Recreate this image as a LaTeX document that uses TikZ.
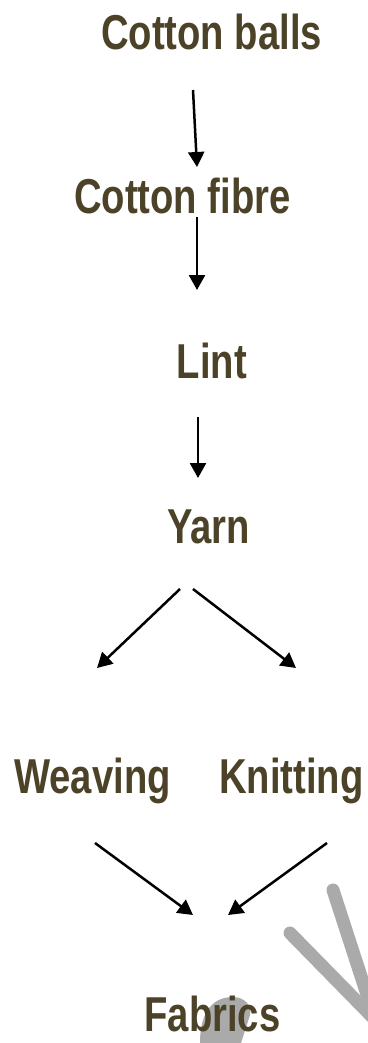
\documentclass[tikz,border=0pt]{standalone}
\usepackage{fontspec}
\newfontfamily\flowfont{Liberation Sans}[FakeStretch=0.78]
\usetikzlibrary{arrows.meta}
\definecolor{stagebrown}{RGB}{75,66,40}
\definecolor{wmgray}{RGB}{170,170,170}

\begin{document}
\begin{tikzpicture}[x=1pt,y=-1pt,
		stage/.style={ % the process steps
			text=stagebrown, inner sep=0pt, anchor=base,
			font=\flowfont\bfseries\fontsize{49}{58}\selectfont
		},
		flow/.style={line width=2.5pt, -{Triangle[length=15pt,width=16pt]}},
		wmstroke/.style={wmgray, line width=13pt, line cap=round}
		]
	\useasboundingbox (0,0) rectangle (367,1043);

	%% watermark pieces
	\draw[wmstroke] (333,890) -- (372,1010);
	\draw[wmstroke] (290,933) -- (390,1035);
	\fill[wmgray] (200,1043) .. controls (200,1010) and (214,997) .. (233,997)
		.. controls (245,997) and (252,1006) .. (250,1015) -- (241,1043) -- cycle;

	%% steps
	\node[stage] (balls) at (211.5,50) {Cotton balls};
	\node[stage] (fibre) at (182.5,213) {Cotton fibre};
	\node[stage] (lint) at (212,378) {Lint};
	\node[stage] (yarn) at (208.5,543) {Yarn};
	\node[stage] (weave) at (92.5,793) {Weaving};
	\node[stage] (knit) at (291.5,793) {Knitting};
	\node[stage] (fabric) at (212.5,1031) {Fabrics};

	% arrow ends
	\coordinate (b1) at (193,90);   \coordinate (f1) at (197,167);
	\coordinate (b2) at (197,217);  \coordinate (f2) at (197,290);
	\coordinate (b3) at (198,417);  \coordinate (f3) at (198,478);
	\coordinate (y1) at (180,589);  \coordinate (w1) at (97,668);
	\coordinate (y2) at (193,589);  \coordinate (k1) at (296,668);
	\coordinate (w2) at (95,843);   \coordinate (c1) at (193,915);
	\coordinate (k2) at (327,843);  \coordinate (c2) at (228,915);

	%% arrows
	\draw[flow] (b1) -- (f1);
	\draw[flow] (b2) -- (f2);
	\draw[flow] (b3) -- (f3);
	\draw[flow] (y1) -- (w1);
	\draw[flow] (y2) -- (k1);
	\draw[flow] (w2) -- (c1);
	\draw[flow] (k2) -- (c2);
\end{tikzpicture}
\end{document}
